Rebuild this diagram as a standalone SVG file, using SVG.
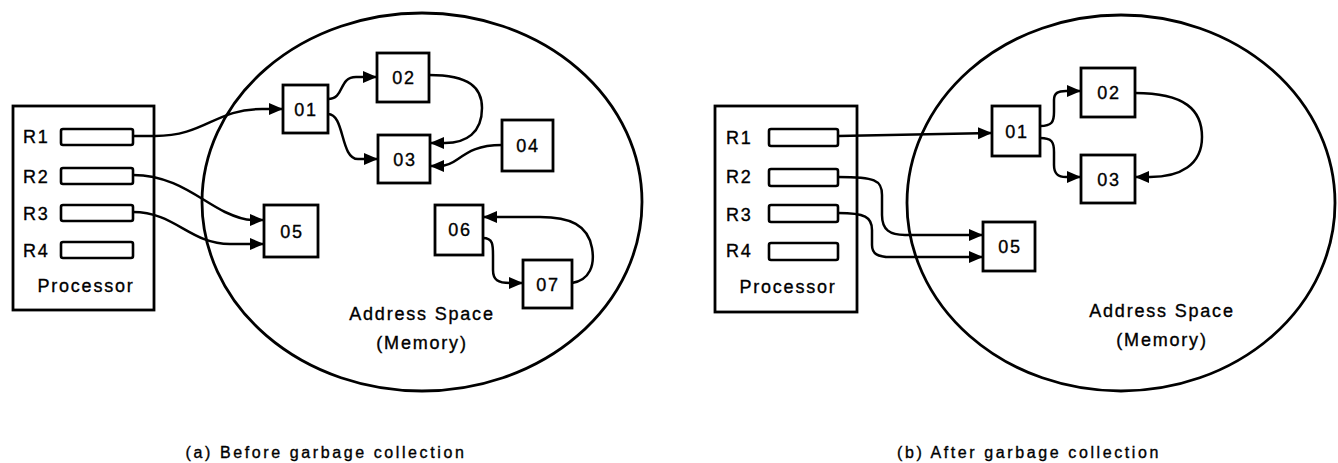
<svg xmlns="http://www.w3.org/2000/svg" width="1338" height="463" viewBox="0 0 1338 463">
  <style>
    .bg { fill: #ffffff; }
    .box { fill: #ffffff; stroke: #000000; stroke-width: 2.8; }
    .reg { fill: #ffffff; stroke: #000000; stroke-width: 2.6; }
    .space { fill: none; stroke: #000000; stroke-width: 2.8; }
    .link { fill: none; stroke: #000000; stroke-width: 2.5; marker-end: url(#arrow); }
    text { font-family: "Liberation Sans", Arial, sans-serif; fill: #000000; stroke: #000000; stroke-width: 0.35; }
    .lbl { font-size: 18px; letter-spacing: 1.8px; }
    .mid { text-anchor: middle; }
    .cap { font-size: 16px; letter-spacing: 2.6px; text-anchor: middle; }
  </style>
  <defs>
    <marker id="arrow" markerUnits="userSpaceOnUse" markerWidth="16" markerHeight="13" refX="14" refY="6" orient="auto">
      <path d="M0,0 L14,6 L0,12 z" fill="#000000"/>
    </marker>
  </defs>
  <rect class="bg" x="0" y="0" width="1338" height="463"/>

  <!-- (a) Before garbage collection -->
  <g id="a-space">
    <ellipse class="space" cx="422" cy="202" rx="220" ry="189"/>
    <text class="lbl mid" x="422" y="320">Address Space</text>
    <text class="lbl mid" x="422" y="349">(Memory)</text>
  </g>
  <g id="a-processor">
    <rect class="box" x="13" y="106" width="141" height="204"/>
    <text class="lbl" x="23" y="143">R1</text>
    <text class="lbl" x="23" y="183">R2</text>
    <text class="lbl" x="23" y="220">R3</text>
    <text class="lbl" x="23" y="257">R4</text>
    <rect class="reg" x="61" y="129" width="72" height="16" rx="2"/>
    <rect class="reg" x="61" y="168" width="72" height="16" rx="2"/>
    <rect class="reg" x="61" y="205" width="72" height="16" rx="2"/>
    <rect class="reg" x="61" y="242" width="72" height="16" rx="2"/>
    <text class="lbl mid" x="86" y="292">Processor</text>
  </g>
  <g id="a-n01"><rect class="box" x="283" y="85" width="45" height="48"/><text class="lbl mid" x="306" y="116">01</text></g>
  <g id="a-n02"><rect class="box" x="377" y="53" width="52" height="49"/><text class="lbl mid" x="404" y="84">02</text></g>
  <g id="a-n03"><rect class="box" x="378" y="135" width="52" height="48"/><text class="lbl mid" x="405" y="166">03</text></g>
  <g id="a-n04"><rect class="box" x="502" y="120" width="51" height="51"/><text class="lbl mid" x="528" y="152">04</text></g>
  <g id="a-n05"><rect class="box" x="264" y="205" width="54" height="52"/><text class="lbl mid" x="292" y="238">05</text></g>
  <g id="a-n06"><rect class="box" x="435" y="205" width="48" height="50"/><text class="lbl mid" x="460" y="236">06</text></g>
  <g id="a-n07"><rect class="box" x="523" y="260" width="49" height="48"/><text class="lbl mid" x="548" y="291">07</text></g>

  <g id="a-links">
    <path class="link" d="M133,136 H155 C205,136 215,109 262,109 H283"/>
    <path class="link" d="M328,99 C345,99 338,77 356,77 H377"/>
    <path class="link" d="M328,114 C345,114 340,159 358,159 H378"/>
    <path class="link" d="M429,75 C470,75 482,88 482,108 C482,133 466,143 445,143 H430"/>
    <path class="link" d="M502,145 C478,145 468,152 458,159 C451,164 446,166 440,166 H430"/>
    <path class="link" d="M133,175 C175,175 200,200 225,212 C240,219 248,220 252,220 H264"/>
    <path class="link" d="M133,212 C175,212 190,244 230,244 H264"/>
    <path class="link" d="M483,238 C493,238 493,245 493,255 V270 C493,280 498,283 510,283 H523"/>
    <path class="link" d="M572,283 C590,280 595,265 592,248 C588,225 570,217 540,217 H483"/>
  </g>

  <!-- (b) After garbage collection -->
  <g id="b-space">
    <ellipse class="space" cx="1121" cy="203" rx="214" ry="188"/>
    <text class="lbl mid" x="1162" y="317">Address Space</text>
    <text class="lbl mid" x="1162" y="346">(Memory)</text>
  </g>
  <g id="b-processor">
    <rect class="box" x="715" y="106" width="142" height="206"/>
    <text class="lbl" x="726" y="144">R1</text>
    <text class="lbl" x="726" y="183">R2</text>
    <text class="lbl" x="726" y="221">R3</text>
    <text class="lbl" x="726" y="257">R4</text>
    <rect class="reg" x="769" y="129" width="69" height="17" rx="2"/>
    <rect class="reg" x="769" y="169" width="69" height="17" rx="2"/>
    <rect class="reg" x="769" y="205" width="69" height="17" rx="2"/>
    <rect class="reg" x="769" y="243" width="69" height="17" rx="2"/>
    <text class="lbl mid" x="788" y="293">Processor</text>
  </g>
  <g id="b-n01"><rect class="box" x="992" y="106" width="48" height="50"/><text class="lbl mid" x="1017" y="138">01</text></g>
  <g id="b-n02"><rect class="box" x="1081" y="68" width="54" height="49"/><text class="lbl mid" x="1109" y="99">02</text></g>
  <g id="b-n03"><rect class="box" x="1081" y="155" width="54" height="48"/><text class="lbl mid" x="1109" y="186">03</text></g>
  <g id="b-n05"><rect class="box" x="983" y="222" width="52" height="49"/><text class="lbl mid" x="1010" y="253">05</text></g>

  <g id="b-links">
    <path class="link" d="M838,136 L992,133"/>
    <path class="link" d="M1040,126 C1052,126 1054,122 1054,112 V100 C1054,93 1058,91 1066,91 H1081"/>
    <path class="link" d="M1040,138 C1052,138 1054,142 1054,152 V165 C1054,174 1058,177 1066,177 H1081"/>
    <path class="link" d="M1135,93 C1185,93 1202,110 1202,137 C1202,165 1180,177 1150,177 H1135"/>
    <path class="link" d="M838,177 C875,177 882,180 882,195 V215 C882,230 890,235 905,235 H983"/>
    <path class="link" d="M838,213 C865,213 872,217 872,230 V245 C872,254 878,257 890,257 H983"/>
  </g>

  <g id="captions">
    <text class="cap" x="326" y="458">(a) Before garbage collection</text>
    <text class="cap" x="1029" y="458">(b) After garbage collection</text>
  </g>
</svg>
